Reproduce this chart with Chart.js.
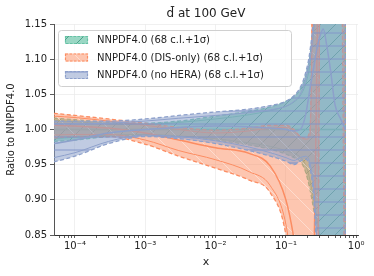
<!DOCTYPE html>
<html>
<head>
<meta charset="utf-8">
<script src="https://cdn.jsdelivr.net/npm/chart.js@4/dist/chart.umd.min.js"></script>
<style>
  html, body { margin: 0; padding: 0; background: #fff; }
  #wrap { width: 374px; height: 276px; }
</style>
</head>
<body>
<div id="wrap"><canvas id="myChart" width="374" height="276"></canvas></div>
<script>
// x grid of the curves
const xNodes = [5e-5, 1e-4, 3e-4, 1e-3, 3e-3, 1e-2, 3e-2, 0.06, 0.1, 0.13, 0.16, 0.19, 0.22, 0.25, 0.28, 0.31, 0.34, 0.38, 0.43, 0.5, 0.6, 0.7];

// NNPDF4.0
const baseCentral = [1, 1, 1, 1, 1, 1, 1, 1, 1, 1, 1, 1, 1, 1, 1, 1, 1, 1, 1, 1, 1, 1];
const baseUp68 = [1.013, 1.011, 1.008, 1.007, 1.010, 1.015, 1.021, 1.027, 1.033, 1.039, 1.048, 1.064, 1.092, 1.14, 1.22, 1.35, 1.45, 1.5, 1.5, 1.5, 1.5, 1.5];
const baseLo68 = [0.987, 0.989, 0.992, 0.993, 0.991, 0.987, 0.981, 0.976, 0.970, 0.966, 0.961, 0.950, 0.928, 0.898, 0.870, 0.84, 0.78, 0.65, 0.6, 0.6, 0.6, 0.6];
const baseUp1s = [1.016, 1.014, 1.010, 1.009, 1.012, 1.019, 1.026, 1.032, 1.040, 1.047, 1.057, 1.075, 1.105, 1.16, 1.25, 1.4, 1.5, 1.55, 1.55, 1.55, 1.55, 1.55];
const baseLo1s = [0.983, 0.985, 0.990, 0.992, 0.990, 0.985, 0.978, 0.972, 0.965, 0.960, 0.955, 0.940, 0.915, 0.885, 0.86, 0.83, 0.75, 0.6, 0.55, 0.55, 0.55, 0.55];

// NNPDF4.0 (DIS-only)
const disCentral = [1.006, 1.005, 1.002, 0.995, 0.985, 0.974, 0.966, 0.948, 0.900, 0.845, 0.780, 0.720, 0.700, 0.800, 1.150, 1.45, 1.6, 1.7, 1.7, 1.7, 1.7, 1.7];
const disUp68 = [1.019, 1.017, 1.012, 1.006, 1.000, 0.995, 0.998, 1.002, 1.003, 0.998, 0.990, 0.986, 0.990, 1.35, 1.7, 1.9, 2.0, 2.0, 2.0, 2.0, 2.0, 2.0];
const disLo68 = [0.992, 0.993, 0.993, 0.985, 0.970, 0.957, 0.940, 0.920, 0.865, 0.78, 0.70, 0.65, 0.62, 0.60, 0.70, 1.35, 1.55, 1.65, 1.65, 1.6, 1.5, 1.4];
const disUp1s = [1.023, 1.020, 1.015, 1.009, 1.003, 0.999, 1.002, 1.006, 1.006, 1.000, 0.990, 0.988, 1.000, 1.4, 1.8, 2.0, 2.1, 2.1, 2.1, 2.1, 2.1, 2.1];
const disLo1s = [0.988, 0.990, 0.990, 0.979, 0.962, 0.945, 0.928, 0.910, 0.850, 0.75, 0.65, 0.60, 0.60, 0.55, 0.60, 1.4, 1.6, 1.7, 1.7, 1.6, 1.4, 0.6];

// NNPDF4.0 (no HERA)
const noheraCentral = [0.980, 0.985, 0.995, 1.000, 1.003, 1.005, 1.004, 1.002, 1.000, 0.998, 1.000, 1.020, 1.058, 1.090, 1.118, 1.135, 1.143, 1.120, 1.085, 1.035, 1.015, 1.000];
const noheraUp68 = [1.008, 1.008, 1.009, 1.012, 1.016, 1.020, 1.024, 1.028, 1.033, 1.040, 1.050, 1.070, 1.100, 1.15, 1.26, 1.4, 1.5, 1.55, 1.55, 1.55, 1.55, 1.55];
const noheraLo68 = [0.960, 0.967, 0.983, 0.992, 0.990, 0.984, 0.975, 0.967, 0.960, 0.956, 0.960, 0.962, 0.952, 0.915, 0.83, 0.72, 0.62, 0.55, 0.55, 0.55, 0.55, 0.55];
const noheraUp1s = [1.012, 1.012, 1.012, 1.015, 1.020, 1.025, 1.029, 1.034, 1.040, 1.048, 1.060, 1.080, 1.112, 1.17, 1.3, 1.45, 1.55, 1.6, 1.6, 1.6, 1.6, 1.6];
const noheraLo1s = [0.954, 0.962, 0.980, 0.990, 0.987, 0.980, 0.970, 0.962, 0.955, 0.950, 0.955, 0.958, 0.945, 0.90, 0.80, 0.70, 0.6, 0.5, 0.5, 0.5, 0.5, 0.5];

const seriesNames = ["NNPDF4.0 (68 c.l.+1σ)", "NNPDF4.0 (DIS-only) (68 c.l.+1σ)", "NNPDF4.0 (no HERA) (68 c.l.+1σ)"];

const xTickValues = [1e-4, 1e-3, 1e-2, 1e-1, 1];
const xTickLabels = ["10⁻⁴", "10⁻³", "10⁻²", "10⁻¹", "10⁰"];
const yTickValues = [0.85, 0.90, 0.95, 1.00, 1.05, 1.10, 1.15];
const yTickLabels = ["0.85", "0.90", "0.95", "1.00", "1.05", "1.10", "1.15"];

const FONT = "'DejaVu Sans', sans-serif";

function hatch(fill, line, kind, size) {
    const c = document.createElement("canvas");
    c.width = size;
    c.height = size;
    const g = c.getContext("2d");
    g.fillStyle = fill;
    g.fillRect(0, 0, size, size);
    g.strokeStyle = line;
    g.lineWidth = 1;
    g.beginPath();
    if (kind === "/") {
        g.moveTo(0, size); g.lineTo(size, 0);
        g.moveTo(-2, 2); g.lineTo(2, -2);
        g.moveTo(size - 2, size + 2); g.lineTo(size + 2, size - 2);
    } else if (kind === "\\") {
        g.moveTo(0, 0); g.lineTo(size, size);
        g.moveTo(size - 2, -2); g.lineTo(size + 2, 2);
        g.moveTo(-2, size - 2); g.lineTo(2, size + 2);
    } else {
        g.moveTo(0, size / 2 + 0.5); g.lineTo(size, size / 2 + 0.5);
    }
    g.stroke();
    return g.createPattern(c, "repeat");
}

const series = [
    { name: seriesNames[0], color: "#66c2a5", pattern: hatch("rgba(102,194,165,0.66)", "rgba(60,150,125,0.8)", "/", 15),
      cen: baseCentral, up68: baseUp68, lo68: baseLo68, up1s: baseUp1s, lo1s: baseLo1s, order: 3 },
    { name: seriesNames[1], color: "#fc8d62", pattern: hatch("rgba(252,141,98,0.5)", "rgba(255,255,255,0.4)", "\\", 20),
      cen: disCentral, up68: disUp68, lo68: disLo68, up1s: disUp1s, lo1s: disLo1s, order: 2 },
    { name: seriesNames[2], color: "#8da0cb", pattern: hatch("rgba(141,160,203,0.55)", "rgba(130,148,200,0.95)", "-", 13),
      cen: noheraCentral, up68: noheraUp68, lo68: noheraLo68, up1s: noheraUp1s, lo1s: noheraLo1s, order: 1 }
];

function pts(arr) {
    return xNodes.map((x, i) => ({ x: x, y: arr[i] }));
}

const datasets = [];
series.forEach(s => {
    const common = { pointRadius: 0, pointHitRadius: 0, cubicInterpolationMode: "monotone", order: s.order, borderColor: s.color, fill: false };
    datasets.push(Object.assign({}, common, { data: pts(s.cen), borderWidth: 1.5 }));
    datasets.push(Object.assign({}, common, { data: pts(s.up68), borderWidth: 1 }));
    datasets.push(Object.assign({}, common, { data: pts(s.lo68), borderWidth: 1 }));
    // closing edge of the 1 sigma band at the last x
    const last = xNodes.length - 1;
    datasets.push(Object.assign({}, common, {
        data: [{ x: xNodes[last], y: s.lo1s[last] }, { x: xNodes[last], y: s.up1s[last] }],
        borderWidth: 1.3, borderDash: [4, 2.5], cubicInterpolationMode: "default", tension: 0
    }));
    datasets.push(Object.assign({}, common, { data: pts(s.lo1s), borderWidth: 1.3, borderDash: [4, 2.5] }));
    datasets.push(Object.assign({}, common, { data: pts(s.up1s), borderWidth: 1.3, borderDash: [4, 2.5], fill: "-1", backgroundColor: s.pattern }));
});

const overlay = {
    id: "overlay",
    afterDraw(chart) {
        const ctx = chart.ctx;
        const area = chart.chartArea;
        ctx.save();
        // title
        ctx.fillStyle = "#222";
        ctx.font = "12px " + FONT;
        ctx.textAlign = "center";
        ctx.textBaseline = "alphabetic";
        ctx.fillText("d\u0304 at 100 GeV", (area.left + area.right) / 2, 17);

        // legend
        const lx = 58, ly = 30, lw = 233, lh = 56;
        ctx.beginPath();
        ctx.roundRect(lx + 0.5, ly + 0.5, lw, lh, 3);
        ctx.fillStyle = "rgba(255,255,255,0.8)";
        ctx.fill();
        ctx.strokeStyle = "#d0d0d0";
        ctx.lineWidth = 1;
        ctx.stroke();
        ctx.font = "10px " + FONT;
        ctx.textAlign = "left";
        ctx.textBaseline = "middle";
        series.forEach((s, i) => {
            const cy = ly + 10 + i * 17.5;
            ctx.fillStyle = s.pattern;
            ctx.fillRect(65, cy - 4, 23, 8);
            ctx.setLineDash([2.5, 1.5]);
            ctx.strokeStyle = s.color;
            ctx.lineWidth = 1.2;
            ctx.strokeRect(65.5, cy - 3.5, 22, 7);
            ctx.setLineDash([]);
            ctx.fillStyle = "#222";
            ctx.fillText(s.name, 97, cy + 0.5);
        });
        ctx.restore();
    }
};

const minorX = [];
[1e-5, 1e-4, 1e-3, 1e-2, 1e-1].forEach(d => {
    for (let k = 2; k <= 9; k++) minorX.push(d * k);
});

const ctx = document.getElementById("myChart");

new Chart(ctx, {
    type: "line",
    data: { datasets: datasets },
    options: {
        responsive: false,
        animation: false,
        layout: { padding: { top: 24, right: 16, left: 0, bottom: 0 } },
        plugins: { legend: { display: false }, tooltip: { enabled: false } },
        scales: {
            x: {
                type: "logarithmic",
                min: 5.03e-5,
                max: 1.06,
                afterBuildTicks: scale => {
                    const all = xTickValues.concat(minorX.filter(v => v > 5.03e-5 && v < 1.06));
                    scale.ticks = all.sort((a, b) => a - b).map(v => ({ value: v }));
                },
                afterFit: scale => { scale.height = 41; },
                ticks: {
                    autoSkip: false,
                    maxRotation: 0,
                    padding: 2,
                    color: "#222",
                    font: { family: FONT, size: 10 },
                    callback: function (value) {
                        const i = xTickValues.indexOf(value);
                        return i >= 0 ? xTickLabels[i] : "";
                    }
                },
                grid: {
                    color: c => (c.tick && xTickValues.indexOf(c.tick.value) >= 0) ? "#ececec" : "rgba(0,0,0,0)",
                    tickColor: "#333",
                    tickLength: 3,
                    lineWidth: 0.8,
                    drawOnChartArea: true
                },
                border: { display: true, color: "#333", width: 1 },
                title: { display: true, text: "x", color: "#222", font: { family: FONT, size: 11 }, padding: { top: 0, bottom: 7 } }
            },
            y: {
                min: 0.85,
                max: 1.15,
                afterBuildTicks: scale => {
                    scale.ticks = yTickValues.map(v => ({ value: v }));
                },
                afterFit: scale => { scale.width = 54; },
                ticks: {
                    padding: 3,
                    color: "#222",
                    font: { family: FONT, size: 10 },
                    callback: function (value, index) {
                        return yTickLabels[index];
                    }
                },
                grid: { color: "#ececec", tickColor: "#333", tickLength: 4, lineWidth: 0.8 },
                border: { display: true, color: "#555", width: 1 },
                title: { display: true, text: "Ratio to NNPDF4.0", color: "#222", font: { family: FONT, size: 10 }, padding: { top: 5, bottom: 0 } }
            }
        }
    },
    plugins: [overlay]
});
</script>
</body>
</html>
